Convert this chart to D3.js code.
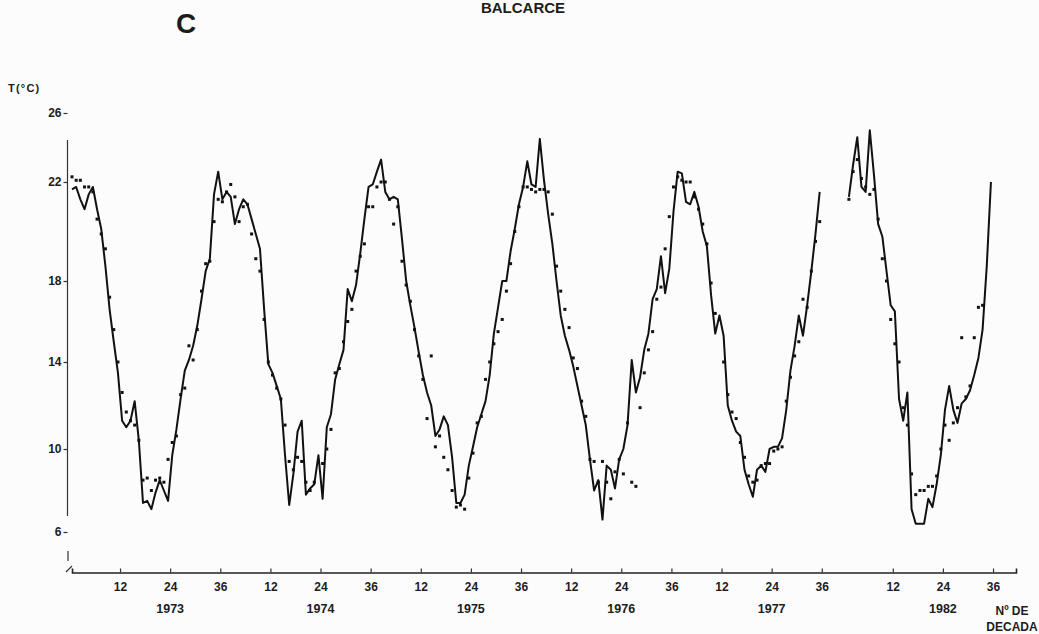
<!DOCTYPE html>
<html><head><meta charset="utf-8">
<script src="https://cdn.jsdelivr.net/npm/d3@7"></script>
<style>
body{margin:0;background:#fcfcfc}
text{font-family:"Liberation Sans",Arial,sans-serif;font-weight:bold;fill:#1c1c1c}
</style>
</head><body>
<svg id="chart" width="1039" height="634"></svg>
<script>
// ---- data ----
const years = ["1973","1974","1975","1976","1977","1982"];
const yearOffsets = [0,36,72,108,144,185];   // dekad position of each year's start (gap before 1982)
const dekadTicks = [12,24,36];
const tempTicks = [6,10,14,18,22,26];

// solid line series (°C per dekad)
const line1973 = [21.7,21.8,21.3,20.9,21.5,21.8,20.9,20.1,18.6,16.6,15.0,13.5,11.3,11.0,11.3,12.2,10.4,7.4,7.5,7.1,7.9,8.5,8.0,7.5,9.7,10.9,12.3,13.6,14.1,14.8,15.8,17.1,18.4,18.9,21.5,22.6];
const line1974 = [21.3,21.6,21.4,20.3,20.9,21.3,21.1,20.5,19.9,19.3,16.6,13.9,13.5,12.9,12.3,9.7,7.3,8.8,10.8,11.3,7.8,8.1,8.3,9.7,7.6,11.0,11.6,13.2,13.9,14.6,17.6,17.0,17.8,19.1,20.5,21.8];
const line1975 = [21.9,22.6,23.3,21.6,21.3,21.4,21.3,19.7,18.0,16.8,15.7,14.5,13.4,12.6,12.0,10.6,10.9,11.5,11.1,9.6,7.4,7.4,7.8,9.2,10.1,11.0,11.6,12.2,13.4,15.4,16.7,18.0,18.0,19.2,20.1,21.1];
const line1976 = [21.8,23.2,21.9,21.8,24.5,22.1,20.7,19.5,18.0,16.3,15.3,14.6,13.8,12.9,12.0,11.1,9.5,8.0,8.5,6.6,9.2,9.0,8.1,9.5,10.0,11.1,14.1,12.6,13.3,14.6,15.4,17.1,17.6,19.0,17.4,18.5];
const line1977 = [20.8,22.6,22.5,21.2,21.1,21.6,21.0,20.0,19.4,17.3,15.4,16.3,15.3,12.0,11.3,10.8,10.6,9.0,8.3,7.7,9.0,9.2,8.9,10.0,10.1,10.1,10.5,11.8,13.6,14.8,16.3,15.3,16.8,18.4,19.9,21.6];
const line1982 = [null,21.4,23.0,24.6,21.8,21.6,25.0,22.4,20.3,19.8,18.4,16.8,16.5,12.3,11.3,12.6,7.1,6.4,6.4,6.4,7.6,7.2,8.3,9.7,11.8,12.9,11.8,11.2,12.1,12.3,12.7,13.4,14.2,15.6,18.6,22.0];

// dotted series (°C per dekad)
const dots1973 = [22.3,22.1,22.1,21.8,21.8,21.6,20.5,19.9,19.3,17.2,15.6,14.0,12.6,11.7,11.3,11.1,10.4,8.5,8.6,8.0,8.5,8.6,8.4,9.5,10.3,10.6,12.5,12.8,14.8,14.1,15.6,17.5,18.7,18.8,20.4,21.3];
const dots1974 = [21.2,21.6,21.9,21.4,20.4,21.0,21.1,19.9,18.9,18.4,16.1,14.0,13.4,12.8,12.3,11.1,9.4,9.0,9.6,9.4,8.4,8.0,8.4,9.4,9.3,10.0,10.9,13.5,13.7,15.0,16.0,16.6,18.4,19.0,19.5,21.0];
const dots1975 = [21.0,21.8,22.0,22.0,21.3,20.3,21.0,18.8,17.8,17.0,15.6,14.3,13.2,11.4,14.3,10.1,10.6,9.6,9.0,8.0,7.2,7.3,7.1,8.6,9.8,11.2,11.5,13.2,14.0,14.9,15.5,16.1,17.5,18.7,20.0,21.0];
const dots1976 = [21.8,21.8,21.7,21.6,21.7,21.7,21.6,20.7,18.6,17.5,16.6,15.7,14.2,13.7,12.2,11.5,9.5,9.4,8.4,9.4,8.4,7.6,8.9,9.5,8.8,11.2,8.4,8.2,11.9,13.5,14.6,15.5,17.1,17.7,19.3,20.6];
const dots1977 = [21.8,22.3,22.1,22.0,22.0,21.4,20.9,20.3,19.5,17.9,16.4,16.1,14.0,12.5,11.7,11.4,10.3,9.6,8.7,8.4,8.5,9.2,9.3,9.3,9.9,10.0,10.1,12.2,13.3,14.3,15.0,17.1,16.7,18.4,19.6,20.4];
const dots1982 = [null,21.3,22.6,23.3,22.2,21.8,21.5,21.7,20.5,18.9,18.0,16.1,14.9,14.0,11.9,11.1,8.8,7.8,8.0,8.0,8.2,8.2,8.7,10.0,11.1,10.4,11.2,11.9,15.2,12.4,12.9,15.2,16.7,16.8,null,null];

const lineSeries = [line1973,line1974,line1975,line1976,line1977,line1982];
const dotSeries = [dots1973,dots1974,dots1975,dots1976,dots1977,dots1982];

// ---- drawing ----
const svg = d3.select("#chart");
svg.append("rect").attr("width",1039).attr("height",634).attr("fill","#fcfcfc");

const x = d3.scaleLinear().domain([0.5,226.5]).range([72,1016]);
const y = d3.scaleLinear().domain([6,10,14,18,22,26]).range([532,449,362,281,182,113]);

function flatten(series){
  const out=[];
  series.forEach((arr,k)=>arr.forEach((v,i)=>out.push({pos:yearOffsets[k]+i+0.5,v:v})));
  return out;
}
const linePts = flatten(lineSeries);
const dotPts = flatten(dotSeries).filter(p=>p.v!=null);

// titles
svg.append("text").attr("x",523).attr("y",13).attr("text-anchor","middle")
  .style("font-size","15px").text("BALCARCE");
svg.append("text").attr("x",186).attr("y",33).attr("text-anchor","middle")
  .style("font-size","28px").text("C");
svg.append("text").attr("x",8).attr("y",92).style("font-size","11px")
  .style("letter-spacing","1.2px").text("T(°C)");

// y axis
const yAxis = d3.axisLeft(y).tickValues(tempTicks).tickSize(4).tickPadding(2).tickFormat(d3.format("d"));
const gy = svg.append("g").attr("transform","translate(67.5,0)").call(yAxis);
gy.select(".domain").remove();
gy.selectAll("line").attr("stroke","#333").attr("stroke-width",1.2);
gy.selectAll("text").style("font-size","12px").style("font-family",'"Liberation Sans",Arial,sans-serif').style("font-weight","bold").attr("fill","#1c1c1c");
svg.append("line").attr("x1",67.5).attr("x2",67.5).attr("y1",140).attr("y2",516)
  .attr("stroke","#333").attr("stroke-width",1.2);
svg.append("path").attr("d","M68,551 V561 M66,572 L72,566").attr("fill","none")
  .attr("stroke","#333").attr("stroke-width",1.2);

// x axis
const xTickPos = [];
yearOffsets.forEach(o=>dekadTicks.forEach(t=>xTickPos.push(o+t)));
const xAxis = d3.axisBottom(x).tickValues(xTickPos).tickSize(-4).tickPadding(10)
  .tickFormat(p=>{ for(const o of yearOffsets){ if(dekadTicks.includes(p-o)) return String(p-o);} return ""; });
const gx = svg.append("g").attr("transform","translate(0,572.5)").call(xAxis);
gx.select(".domain").attr("stroke","#222").attr("stroke-width",1.6);
gx.selectAll("line").attr("stroke","#333").attr("stroke-width",1.2);
gx.selectAll("text").style("font-size","12px").style("font-family",'"Liberation Sans",Arial,sans-serif').style("font-weight","bold").attr("fill","#1c1c1c");

// year labels
svg.append("g").selectAll("text").data(years).join("text")
  .attr("x",(d,k)=>x(yearOffsets[k]+24)).attr("y",613).attr("text-anchor","middle")
  .style("font-size","12.5px").text(d=>d);
svg.append("text").attr("x",1012).attr("y",615).attr("text-anchor","middle").style("font-size","12px").text("Nº DE");
svg.append("text").attr("x",1012).attr("y",631).attr("text-anchor","middle").style("font-size","12px").text("DECADA");

// line series
const lineGen = d3.line().defined(p=>p.v!=null).x(p=>x(p.pos)).y(p=>y(p.v));
svg.append("path").datum(linePts).attr("d",lineGen).attr("fill","none")
  .attr("stroke","#111").attr("stroke-width",2).attr("stroke-linejoin","round");

// dots
svg.append("g").selectAll("rect").data(dotPts).join("rect")
  .attr("x",p=>x(p.pos)-1.5).attr("y",p=>y(p.v)-1.5).attr("width",3).attr("height",3)
  .attr("fill","#111");
</script>
</body></html>
